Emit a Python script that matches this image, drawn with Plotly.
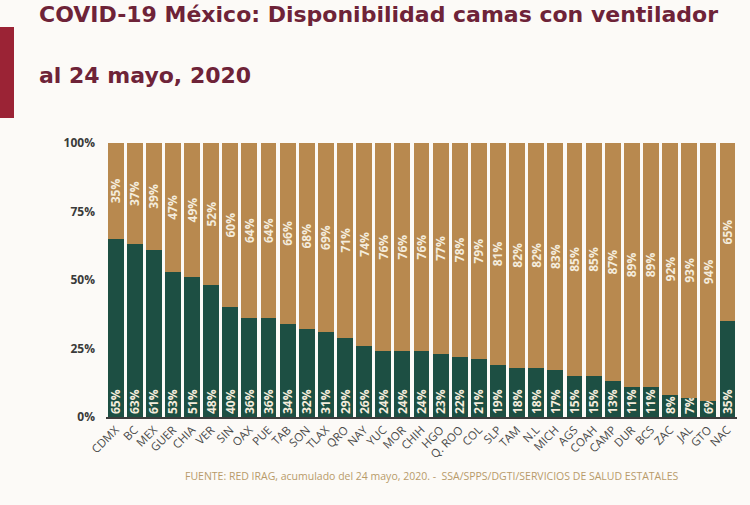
import plotly.graph_objects as go

estados = ["CDMX", "BC", "MEX", "GUER", "CHIA", "VER", "SIN", "OAX", "PUE", "TAB", "SON",
           "TLAX", "QRO", "NAY", "YUC", "MOR", "CHIH", "HGO", "Q. ROO", "COL", "SLP", "TAM",
           "N.L", "MICH", "AGS", "COAH", "CAMP", "DUR", "BCS", "ZAC", "JAL", "GTO", "NAC"]
ocupadas = [65, 63, 61, 53, 51, 48, 40, 36, 36, 34, 32, 31, 29, 26, 24, 24, 24, 23, 22, 21,
            19, 18, 18, 17, 15, 15, 13, 11, 11, 8, 7, 6, 35]
disponibles = [35, 37, 39, 47, 49, 52, 60, 64, 64, 66, 68, 69, 71, 74, 76, 76, 76, 77, 78, 79,
               81, 82, 82, 83, 85, 85, 87, 89, 89, 92, 93, 94, 65]
y_ticks = [0, 25, 50, 75, 100]
y_tick_labels = ["0%", "25%", "50%", "75%", "100%"]

GREEN = "#1d4f43"
TAN = "#b8894f"
CREAM = "#f4ecdc"
MAROON = "#6e2338"

fig = go.Figure()
fig.add_trace(go.Bar(
    x=estados, y=ocupadas, marker=dict(color=GREEN, line=dict(width=0)),
    text=[f"{v}%" for v in ocupadas], textposition="inside", insidetextanchor="start",
    textangle=-90, constraintext="none",
    textfont=dict(family="Open Sans", size=12, color=CREAM, weight="bold"),
    hoverinfo="skip", showlegend=False,
))
fig.add_trace(go.Bar(
    x=estados, y=disponibles, marker=dict(color=TAN, line=dict(width=0)),
    text=[f"{v}%" for v in disponibles], textposition="inside", insidetextanchor="middle",
    textangle=-90, constraintext="none",
    textfont=dict(family="Open Sans", size=12, color=CREAM, weight="bold"),
    hoverinfo="skip", showlegend=False,
))

fig.update_layout(
    barmode="stack", bargap=0.17,
    width=750, height=505,
    margin=dict(l=106, r=13, t=143, b=88),
    paper_bgcolor="#fcfaf7", plot_bgcolor="rgba(0,0,0,0)",
    font=dict(family="Open Sans", color="#3a3a3a"),
    xaxis=dict(tickangle=-45, showgrid=False, showline=True, linecolor="#3c3c3c", linewidth=1.5,
               tickfont=dict(family="Open Sans", size=11.5, color="#4a4a4a"), ticks="",
               range=[-0.5, len(estados) - 0.5]),
    yaxis=dict(range=[0, 100], tickvals=y_ticks, ticktext=y_tick_labels, showgrid=False,
               zeroline=False, showline=False, ticks="", ticklabelstandoff=10,
               tickfont=dict(family="Open Sans", size=12, color="#3a3a3a", weight="bold")),
    shapes=[
        dict(type="rect", xref="paper", yref="paper", x0=-106/631, x1=-92/631,
             y0=(417-118)/274, y1=(417-27)/274,
             fillcolor="#9b2335", line=dict(width=0), layer="above"),
    ],
    annotations=[
        dict(text="<b>COVID-19 México: Disponibilidad camas con ventilador</b>", xref="paper", yref="paper",
             x=-69/631, y=(417-15)/274, xanchor="left", yanchor="middle", showarrow=False,
             font=dict(family="DejaVu Sans", size=22, color=MAROON)),
        dict(text="<b>al 24 mayo, 2020</b>", xref="paper", yref="paper",
             x=-69/631, y=(417-75)/274, xanchor="left", yanchor="middle", showarrow=False,
             font=dict(family="DejaVu Sans", size=22, color=MAROON)),
        dict(text="FUENTE: RED IRAG, acumulado del 24 mayo, 2020. -  SSA/SPPS/DGTI/SERVICIOS DE SALUD ESTATALES",
             xref="paper", yref="paper", x=(183-106)/631, y=(417-476)/274, xanchor="left", yanchor="middle",
             showarrow=False, font=dict(family="Open Sans", size=10.5, color="#b89a6a")),
    ],
)

fig.write_html("out.html", config={"displayModeBar": False},
               post_script="document.body.style.margin='0';document.body.style.overflow='hidden';")
